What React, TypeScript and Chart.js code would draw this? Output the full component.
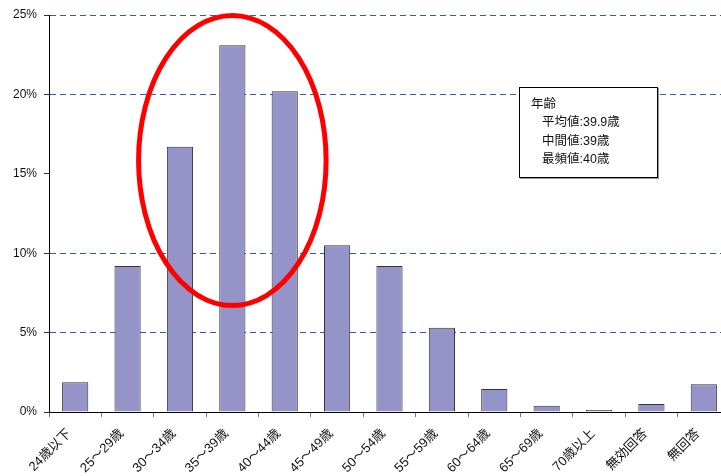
import React, { useEffect, useRef } from "react";
import { Chart, registerables } from "chart.js";

Chart.register(...registerables);

const categories = [
  "24歳以下", "25～29歳", "30～34歳", "35～39歳", "40～44歳", "45～49歳",
  "50～54歳", "55～59歳", "60～64歳", "65～69歳", "70歳以上", "無効回答", "無回答",
];
const percentages = [1.87, 9.2, 16.7, 23.1, 20.2, 10.5, 9.2, 5.3, 1.45, 0.4, 0.13, 0.5, 1.75];
const yTicks = [0, 5, 10, 15, 20, 25];
const gridValues = [5, 10, 20, 25];
const summaryTitle = "年齢";
const summaryLines = ["平均値:39.9歳", "中間値:39歳", "最頻値:40歳"];
// highlight ellipse in data units: center category index, center value, radii
const highlight = { index: 3, value: 15.84, rxCategories: 1.79, ryValue: 9.13 };

const ellipsePlugin = {
  id: "highlightEllipse",
  afterDatasetsDraw(chart: any) {
    const { ctx, scales } = chart;
    const x = scales.x;
    const y = scales.y;
    const cx = x.getPixelForValue(highlight.index);
    const step = x.getPixelForValue(1) - x.getPixelForValue(0);
    const cy = y.getPixelForValue(highlight.value);
    const ry = Math.abs(y.getPixelForValue(highlight.value + highlight.ryValue) - cy);
    ctx.save();
    ctx.beginPath();
    ctx.ellipse(cx, cy, step * highlight.rxCategories, ry, 0, 0, Math.PI * 2);
    ctx.strokeStyle = "#FF0000";
    ctx.lineWidth = 5;
    ctx.stroke();
    ctx.restore();
  },
};

export default function App() {
  const ref = useRef<HTMLCanvasElement>(null);

  useEffect(() => {
    if (!ref.current) return;
    const chart = new Chart(ref.current, {
      type: "bar",
      data: {
        labels: categories,
        datasets: [
          {
            data: percentages,
            backgroundColor: "#9494C9",
            borderColor: "#333333",
            borderWidth: 1,
            barPercentage: 0.5,
            categoryPercentage: 1,
          },
        ],
      },
      options: {
        responsive: false,
        animation: false,
        devicePixelRatio: 1,
        layout: { padding: { top: 15, left: 0, right: 0, bottom: 0 } },
        plugins: { legend: { display: false }, tooltip: { enabled: false } },
        scales: {
          x: {
            offset: true,
            grid: {
              offset: true,
              drawOnChartArea: false,
              drawTicks: true,
              tickLength: 5,
              tickColor: "#777777",
              tickBorderDash: [],
            },
            border: { display: true, color: "#000000", width: 1 },
            ticks: {
              autoSkip: false,
              minRotation: 45,
              maxRotation: 45,
              padding: 9,
              labelOffset: -6,
              color: "#111111",
              font: { family: "'Liberation Sans', 'Noto Sans CJK JP'", size: 13 },
            },
            afterFit(scale: any) {
              scale.height = 64;
              scale.paddingLeft = 0;
              scale.paddingRight = 0;
            },
          },
          y: {
            min: 0,
            max: 25,
            afterBuildTicks(scale: any) {
              scale.ticks = yTicks.map((v) => ({ value: v }));
            },
            grid: {
              color: (c: any) => (gridValues.includes(c.tick?.value) ? "#3558BE" : "rgba(0,0,0,0)"),
              lineWidth: 1,
              drawTicks: true,
              tickLength: 5,
              tickColor: "#333333",
              tickBorderDash: [],
            },
            border: { display: true, color: "#000000", width: 1, dash: [6, 4] },
            ticks: {
              padding: 7,
              color: "#111111",
              font: { family: "'Liberation Sans', 'Noto Sans CJK JP'", size: 12 },
              callback: (v: any) => `${v}%`,
            },
            afterFit(scale: any) {
              scale.width = 49;
              scale.paddingTop = 0;
              scale.paddingBottom = 0;
            },
          },
        },
      },
      plugins: [ellipsePlugin],
    });
    return () => chart.destroy();
  }, []);

  return (
    <div
      style={{
        position: "fixed",
        left: 0,
        top: 0,
        width: 721,
        height: 476,
        overflow: "hidden",
        background: "#ffffff",
      }}
    >
      <canvas ref={ref} width={730} height={476} style={{ display: "block", width: 730, height: 476 }} />
      <div
        style={{
          position: "absolute",
          left: 519,
          top: 87,
          width: 139,
          height: 91,
          boxSizing: "border-box",
          border: "1px solid #000",
          boxShadow: "1px 1px 0 #999",
          background: "#fff",
          padding: "7px 0 0 11px",
          fontFamily: "'Liberation Sans', 'Noto Sans CJK JP', sans-serif",
          fontSize: 12.5,
          lineHeight: "18.3px",
          color: "#111",
        }}
      >
        <div>{summaryTitle}</div>
        {summaryLines.map((s) => (
          <div key={s} style={{ paddingLeft: 11 }}>
            {s}
          </div>
        ))}
      </div>
    </div>
  );
}
